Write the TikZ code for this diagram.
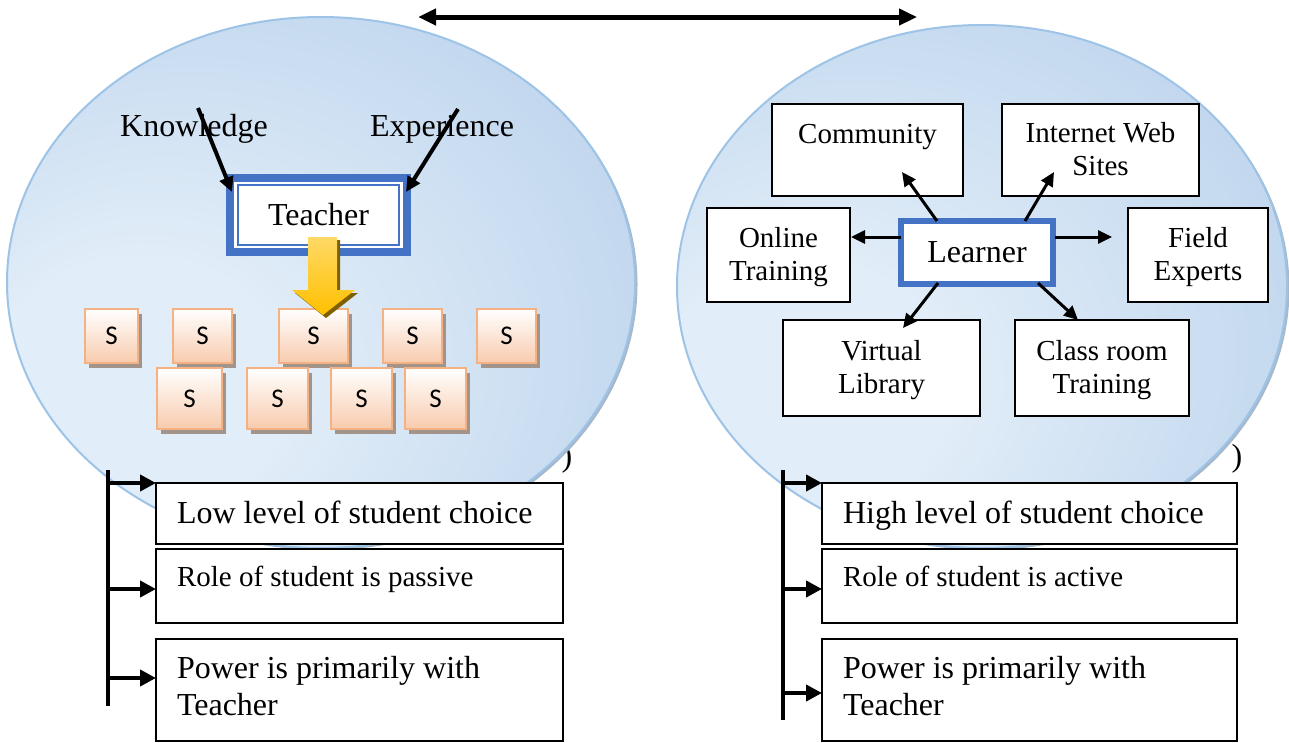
\documentclass[tikz,border=0pt]{standalone}
\usepackage{fontspec}
\setmainfont{Liberation Serif}
\newfontfamily\tilefont{Carlito}
\usetikzlibrary{arrows.meta,calc,shadows}

\definecolor{bubblein}{HTML}{E1EDF8}
\definecolor{bubbleout}{HTML}{9DBEE3}
\definecolor{bubbleedge}{HTML}{9DC3E6}
\definecolor{bubbleshade}{HTML}{A7B8CA}
\definecolor{frameblue}{HTML}{4472C4}
\definecolor{tileedge}{HTML}{F4B183}
\definecolor{tilefill}{HTML}{F8CBAD}
\definecolor{tileshade}{HTML}{A3948B}
\definecolor{goldtop}{HTML}{FFD966}
\definecolor{goldbottom}{HTML}{FFC000}
\definecolor{goldshade}{HTML}{7F6000}

\pgfdeclareradialshading{bubblefill}{\pgfpoint{-18bp}{-12bp}}{color(0bp)=(bubblein); color(12bp)=(bubblein); color(62bp)=(bubbleout)}

\newcommand{\labelfont}{\fontsize{32}{37}\selectfont}
\newcommand{\boxfont}{\fontsize{29}{33}\selectfont}

\begin{document}
\begin{tikzpicture}[x=1pt, y=-1pt,
	bubble/.style={draw=bubbleedge, line width=2pt, shading=bubblefill},
	tile/.style={draw=tileedge, line width=2pt, top color=white, bottom color=tilefill, outer sep=0pt, inner sep=0pt, minimum height=54pt, font=\tilefont\fontsize{27}{31}\selectfont, drop shadow={shadow xshift=4pt, shadow yshift=-5pt, fill=tileshade, opacity=1}},
	hub/.style={draw=frameblue, fill=white, outer sep=0pt, font=\labelfont},
	place/.style={draw, line width=1.6pt, fill=white, outer sep=0pt, align=flush center, font=\boxfont, text height=16pt, text depth=30pt},
	pair/.style={text height=50pt, text depth=0pt},
	trait/.style={draw, line width=1.6pt, fill=white, outer sep=0pt, minimum width=407pt, text width=365pt, align=flush left, inner sep=2pt, font=\labelfont},
	feed/.style={line width=4pt, -{Triangle[length=15pt,width=14pt]}},
	spoke/.style={line width=3pt, -{Triangle[length=14pt,width=13pt]}},
	point/.style={line width=4pt, -{Triangle[length=16pt,width=16pt]}}
	]
	
	\useasboundingbox (0,0) rectangle (1289,742);
	
	\node[font=\labelfont] (lclose) at (567,459) {)};
	\node[font=\labelfont] (rclose) at (1237,459) {)};
	
	\fill[bubbleshade] (323.5,284.5) ellipse [x radius=314, y radius=265.5];
	\path[bubble] (321,282.5) ellipse [x radius=314, y radius=265.5];
	\fill[bubbleshade] (984.5,288.5) ellipse [x radius=305, y radius=261.5];
	\path[bubble] (982,286.5) ellipse [x radius=305, y radius=261.5];
	
	\coordinate (span l) at (418,17);
	\coordinate (span r) at (917,17);
	\draw[line width=5pt, {Triangle[length=18pt,width=16pt]}-{Triangle[length=18pt,width=16pt]}] (span l) -- (span r);
	
	% teacher side
	\node[font=\labelfont] (know) at (194,129) {Knowledge};
	\node[font=\labelfont] (exper) at (442,129) {Experience};
	\node[hub, line width=8pt, minimum width=177pt, minimum height=74pt] (teacher) at (318.5,215) {Teacher};
	\draw[frameblue, line width=2pt] ($(teacher.south west)+(8,-7)$) rectangle ($(teacher.north east)+(-8,7)$);
	\coordinate (know tail) at (198,108);
	\coordinate (exper tail) at (458,109);
	\draw[feed] (know tail) -- ($(teacher.north west)+(2,14)$);
	\draw[feed] (exper tail) -- ($(teacher.north east)+(-1,14)$);
	
	\node[tile, minimum width=53pt] (s1) at (111.5,336) {S};
	\node[tile, minimum width=59pt] (s2) at (202.5,336) {S};
	\node[tile, minimum width=69pt] (s3) at (313.5,336) {S};
	\node[tile, minimum width=59pt] (s4) at (412.5,336) {S};
	\node[tile, minimum width=59pt] (s5) at (506.5,336) {S};
	\node[tile, minimum width=65pt, minimum height=61pt] (s6) at (189.5,398.5) {S};
	\node[tile, minimum width=61pt, minimum height=61pt] (s7) at (277.5,398.5) {S};
	\node[tile, minimum width=61pt, minimum height=61pt] (s8) at (361.5,398.5) {S};
	\node[tile, minimum width=61pt, minimum height=61pt] (s9) at (435.5,398.5) {S};
	
	\fill[goldshade] (311,240) -- (340,240) -- (340,293) -- (358,293) -- (326,318) -- (295,293) -- (311,293) -- cycle;
	\shade[top color=goldtop, bottom color=goldbottom] (308,237) -- (337,237) -- (337,290) -- (355,290) -- (323,315) -- (292,290) -- (308,290) -- cycle;
	
	% learner side
	\node[hub, line width=6pt, minimum width=152pt, minimum height=63pt] (learner) at (977,252.5) {Learner};
	\node[place, minimum width=191pt, minimum height=92pt] (comm) at (867.5,150) {Community};
	\node[place, pair, minimum width=197pt, minimum height=92pt] (web) at (1100.5,150) {Internet Web\\Sites};
	\node[place, pair, minimum width=143pt, minimum height=94pt] (online) at (778.5,255) {Online\\Training};
	\node[place, pair, minimum width=140pt, minimum height=94pt] (field) at (1198,255) {Field\\Experts};
	\node[place, pair, minimum width=197pt, minimum height=96pt] (virtual) at (881.5,368) {Virtual\\Library};
	\node[place, pair, minimum width=174pt, minimum height=96pt] (class) at (1102,368) {Class room\\Training};
	
	\draw[spoke] ($(learner.north)+(-40,0)$) -- ($(comm.south)+(34.5,-24)$);
	\draw[spoke] ($(learner.north)+(48,0)$) -- ($(web.south)+(-46.5,-24)$);
	\draw[spoke] ($(learner.west)+(0,-15.5)$) -- ($(online.east)+(1,-18)$);
	\draw[spoke] ($(learner.east)+(2,-15.5)$) -- ($(field.west)+(-16,-18)$);
	\draw[spoke] ($(learner.south)+(-39,-1)$) -- ($(virtual.north)+(21.5,8)$);
	\draw[spoke] ($(learner.south)+(61,-1)$) -- ($(class.north)+(-24,0)$);
	
	% lists below
	\coordinate (ltop) at (108,470);
	\coordinate (lbot) at (108,706);
	\draw[line width=4pt] (ltop) -- (lbot);
	\node[trait, minimum height=61pt, text height=24pt, text depth=5pt] (low) at (359.5,513.5) {Low level of student choice};
	\node[trait, minimum height=74pt, text height=20pt, text depth=20pt, font=\boxfont] (passive) at (359.5,586) {Role of student is passive};
	\node[trait, minimum height=102pt, text height=20pt, text depth=44pt] (lpower) at (359.5,690) {Power is primarily with\\Teacher};
	\draw[point] (low.north west -| ltop) -- (low.north west);
	\draw[point] ($(passive.west)+(-48,3)$) -- ($(passive.west)+(0,3)$);
	\draw[point] ($(lpower.west)+(-48,-12)$) -- ($(lpower.west)+(0,-12)$);
	
	\coordinate (rtop) at (783,470);
	\coordinate (rbot) at (783,720);
	\draw[line width=4pt] (rtop) -- (rbot);
	\node[trait, minimum width=415pt, text width=373pt, minimum height=61pt, text height=24pt, text depth=5pt] (high) at (1029.5,513.5) {High level of student choice};
	\node[trait, minimum width=415pt, text width=373pt, minimum height=74pt, text height=20pt, text depth=20pt, font=\boxfont] (active) at (1029.5,586) {Role of student is active};
	\node[trait, minimum width=415pt, text width=373pt, minimum height=102pt, text height=20pt, text depth=44pt] (rpower) at (1029.5,690) {Power is primarily with\\Teacher};
	\draw[point] (high.north west -| rtop) -- (high.north west);
	\draw[point] ($(active.west)+(-39,3)$) -- ($(active.west)+(0,3)$);
	\draw[point] ($(rpower.west)+(-39,3)$) -- ($(rpower.west)+(0,3)$);
	
\end{tikzpicture}
\end{document}
